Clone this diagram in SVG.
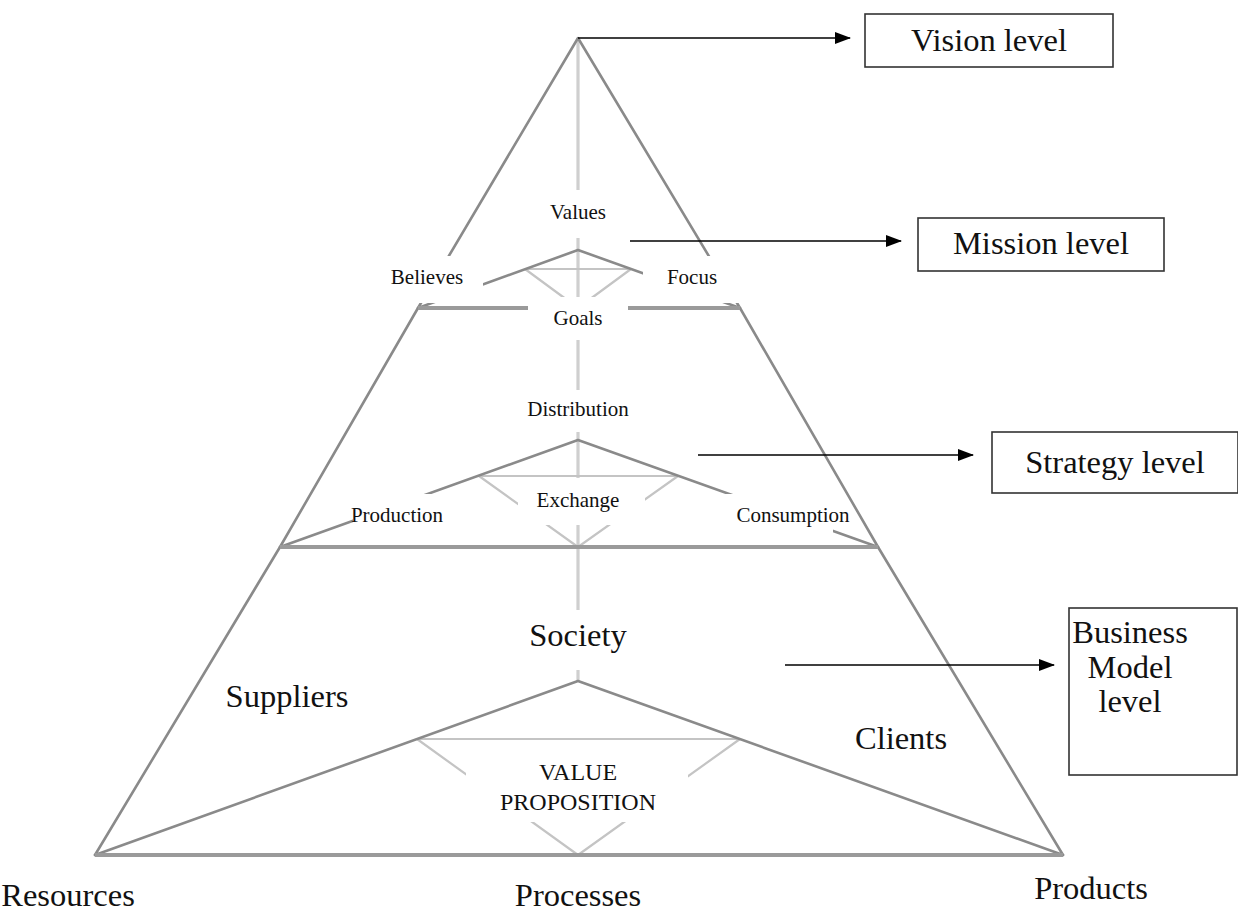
<svg xmlns="http://www.w3.org/2000/svg" width="1238" height="916" viewBox="0 0 1238 916">
  <style>
    .edge { stroke: #8a8a8a; stroke-width: 2.6; fill: none; stroke-linecap: round; stroke-linejoin: round; }
    .base { stroke: #9a9a9a; stroke-width: 4; fill: none; }
    .inner { stroke: #c4c4c4; stroke-width: 2.2; fill: none; }
    .axis { stroke: #cfcfcf; stroke-width: 3.2; fill: none; }
    .mask { fill: #ffffff; stroke: none; }
    .sm { font-family: "Liberation Serif", "Times New Roman", serif; font-size: 21px; fill: #111; text-anchor: middle; }
    .lg { font-family: "Liberation Serif", "Times New Roman", serif; font-size: 32.5px; fill: #111; text-anchor: middle; }
    .vp { font-family: "Liberation Serif", "Times New Roman", serif; font-size: 24px; fill: #111; text-anchor: middle; }
    .box { fill: #ffffff; stroke: #333333; stroke-width: 1.6; }
    .arrow { stroke: #000; stroke-width: 1.6; fill: none; marker-end: url(#head); }
  </style>
  <defs>
    <marker id="head" viewBox="0 0 16 12" refX="15" refY="6" markerWidth="16" markerHeight="12" markerUnits="userSpaceOnUse" orient="auto">
      <path d="M0,0 L16,6 L0,12 Z" fill="#000"/>
    </marker>
    <filter id="soft" x="-5%" y="-5%" width="110%" height="110%">
      <feGaussianBlur stdDeviation="0.5"/>
    </filter>
  </defs>

  <rect width="1238" height="916" fill="#ffffff"/>

  <!-- pyramid frame -->
  <g id="pyramid" filter="url(#soft)">
    <!-- central axis -->
    <line class="axis" x1="578" y1="38" x2="578" y2="681"/>

    <!-- inner braces (light) -->
    <path class="inner" d="M525,269 L631,269 M525,269 L578,308 M631,269 L578,308"/>
    <path class="inner" d="M479,476 L678,476 M479,476 L578,547 M678,476 L578,547"/>
    <path class="inner" d="M417,739 L740,739 M417,739 L578,855 M740,739 L578,855"/>

    <!-- inner triangles -->
    <path class="edge" d="M418,308 L578,250 L740,308"/>
    <path class="edge" d="M280,547 L578,440 L878,547"/>
    <path class="edge" d="M95,855 L578,681 L1063,855"/>

    <!-- outer outline -->
    <path class="edge" d="M95,855 L280,547 L418,308 L578,38 L740,308 L878,547 L1063,855"/>

    <!-- level bases -->
    <line class="base" x1="418" y1="308" x2="740" y2="308"/>
    <line class="base" x1="280" y1="547" x2="878" y2="547"/>
    <line class="base" x1="95" y1="855" x2="1063" y2="855"/>
  </g>

  <!-- label backdrops -->
  <g id="backdrops">
    <rect class="mask" x="536" y="190" width="84" height="48"/>
    <rect class="mask" x="370" y="256" width="113" height="47"/>
    <rect class="mask" x="643" y="256" width="100" height="47"/>
    <rect class="mask" x="528" y="297" width="100" height="43"/>
    <rect class="mask" x="520" y="390" width="116" height="42"/>
    <rect class="mask" x="353" y="494" width="118" height="47"/>
    <rect class="mask" x="518" y="478" width="127" height="47"/>
    <rect class="mask" x="680" y="494" width="153" height="49"/>
    <rect class="mask" x="500" y="610" width="156" height="60"/>
    <rect class="mask" x="466" y="746" width="222" height="76"/>
  </g>

  <!-- pyramid labels -->
  <g id="values"><text class="sm" x="578" y="219">Values</text></g>
  <g id="believes"><text class="sm" x="427" y="284">Believes</text></g>
  <g id="focus"><text class="sm" x="692" y="284">Focus</text></g>
  <g id="goals"><text class="sm" x="578" y="325">Goals</text></g>
  <g id="distribution"><text class="sm" x="578" y="416">Distribution</text></g>
  <g id="production"><text class="sm" x="397" y="522">Production</text></g>
  <g id="exchange"><text class="sm" x="578" y="507">Exchange</text></g>
  <g id="consumption"><text class="sm" x="793" y="522">Consumption</text></g>
  <g id="society"><text class="lg" x="578" y="646">Society</text></g>
  <g id="suppliers"><text class="lg" x="287" y="707">Suppliers</text></g>
  <g id="clients"><text class="lg" x="901" y="749">Clients</text></g>
  <g id="value-proposition">
    <text class="vp" x="578" y="780">VALUE</text>
    <text class="vp" x="578" y="810">PROPOSITION</text>
  </g>
  <g id="resources"><text class="lg" x="68" y="906">Resources</text></g>
  <g id="processes"><text class="lg" x="578" y="906">Processes</text></g>
  <g id="products"><text class="lg" x="1091" y="899">Products</text></g>

  <!-- level boxes -->
  <g id="vision-level">
    <rect class="box" x="865" y="14" width="248" height="53"/>
    <text class="lg" x="989" y="51">Vision level</text>
  </g>
  <g id="mission-level">
    <rect class="box" x="918" y="218" width="246" height="53"/>
    <text class="lg" x="1041" y="254">Mission level</text>
  </g>
  <g id="strategy-level">
    <rect class="box" x="992" y="432" width="246" height="61"/>
    <text class="lg" x="1115" y="473">Strategy level</text>
  </g>
  <g id="business-model-level">
    <rect class="box" x="1069" y="608" width="168" height="167"/>
    <text class="lg" x="1130" y="643">Business</text>
    <text class="lg" x="1130" y="678">Model</text>
    <text class="lg" x="1130" y="712">level</text>
  </g>

  <!-- connectors -->
  <g id="connectors">
    <line class="arrow" x1="578" y1="38" x2="850" y2="38"/>
    <line class="arrow" x1="630" y1="241" x2="901" y2="241"/>
    <line class="arrow" x1="698" y1="455" x2="973" y2="455"/>
    <line class="arrow" x1="785" y1="665" x2="1054" y2="665"/>
  </g>
</svg>
